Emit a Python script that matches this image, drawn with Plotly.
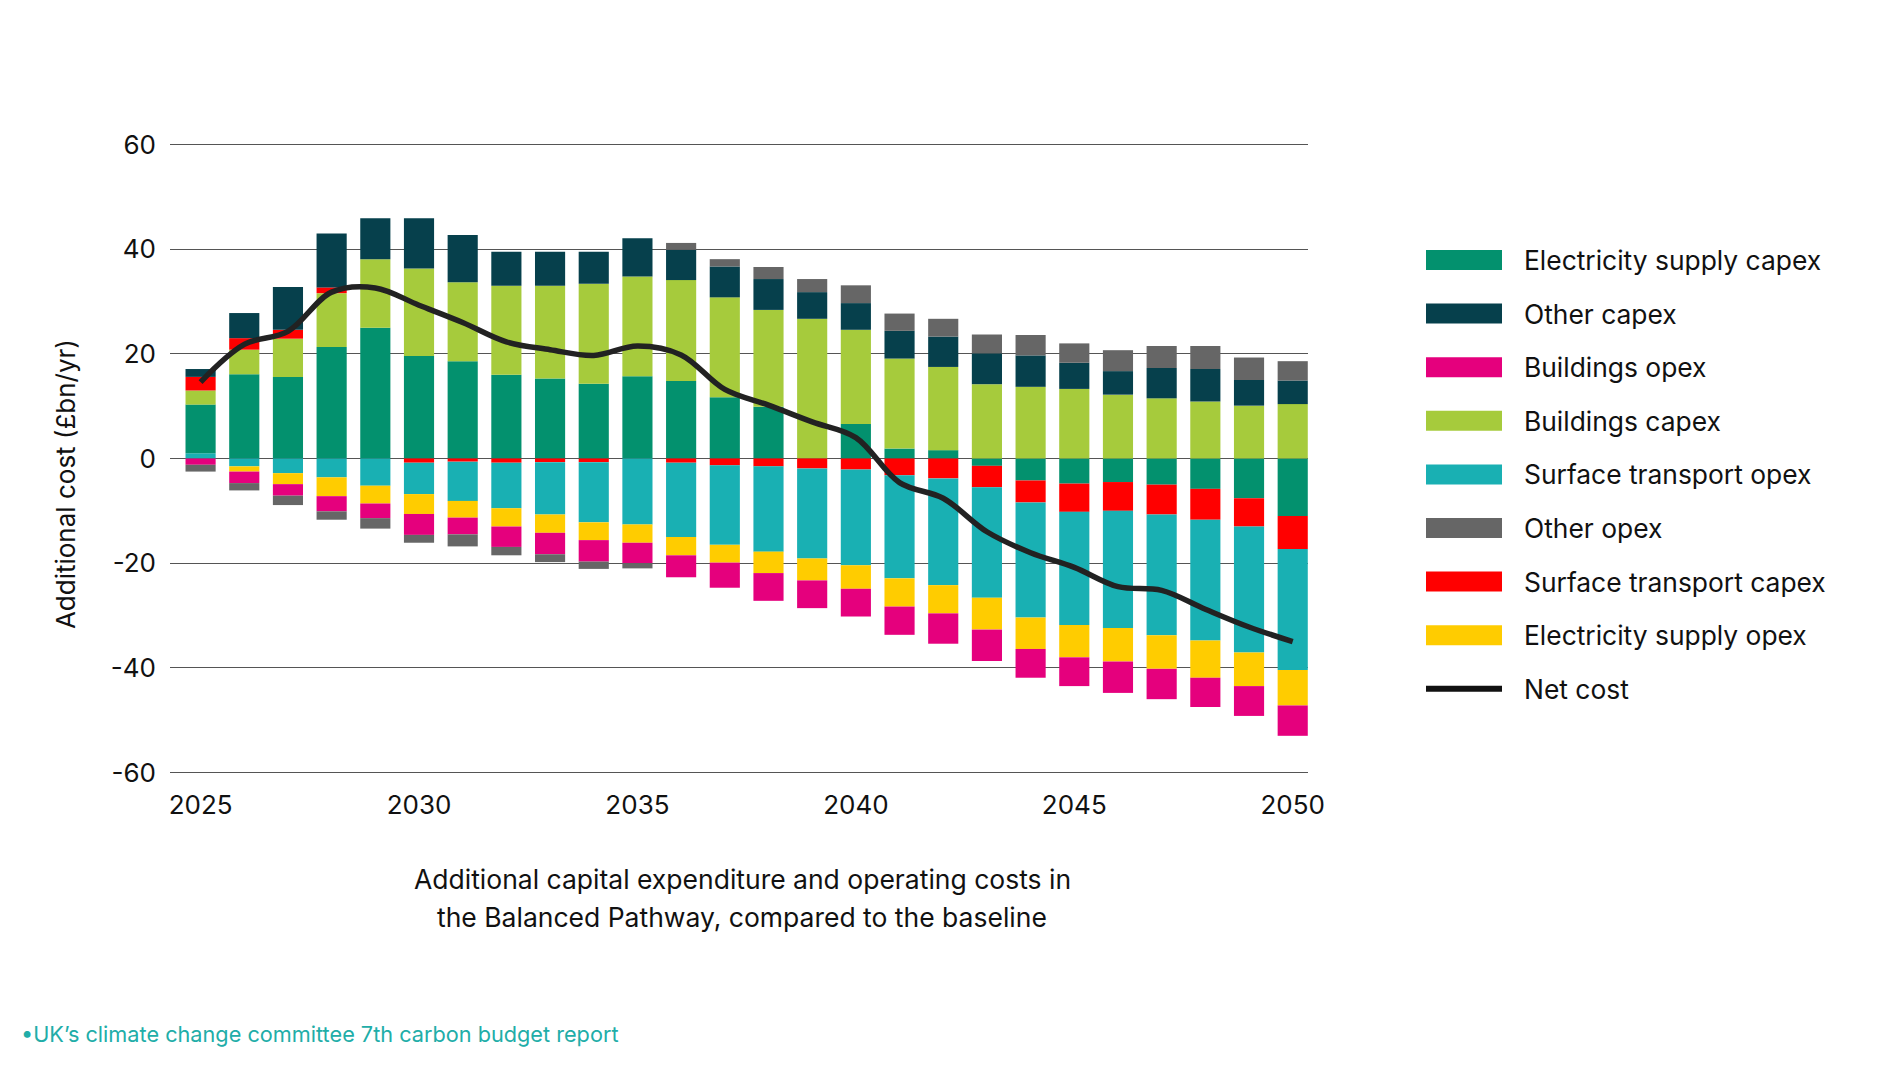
import plotly.graph_objects as go

# Additional capital expenditure and operating costs, Balanced Pathway vs baseline (£bn/yr)
years = [2025, 2026, 2027, 2028, 2029, 2030, 2031, 2032, 2033, 2034, 2035, 2036, 2037,
         2038, 2039, 2040, 2041, 2042, 2043, 2044, 2045, 2046, 2047, 2048, 2049, 2050]

elec_supply_capex = [9.3, 16.1, 15.6, 21.3, 25.0, 19.6, 18.6, 16.0, 15.3, 14.3, 15.7, 14.8, 11.7,
                     9.9, 0.0, 6.6, 1.9, 1.6, -1.4, -4.2, -4.8, -4.5, -5.0, -5.8, -7.6, -11.0]
other_capex = [1.5, 4.8, 8.2, 10.3, 7.8, 9.6, 9.0, 6.5, 6.5, 6.1, 7.3, 5.8, 5.9,
               5.9, 5.1, 5.1, 5.3, 5.8, 5.9, 6.0, 5.0, 4.5, 5.8, 6.2, 4.9, 4.5]
buildings_opex = [-1.2, -2.2, -2.2, -2.9, -2.8, -4.0, -3.2, -3.9, -4.1, -4.1, -3.9, -4.2, -4.8,
                  -5.3, -5.3, -5.3, -5.4, -5.8, -6.0, -5.5, -5.5, -6.0, -5.8, -5.6, -5.7, -5.8]
buildings_capex = [2.7, 4.7, 7.3, 10.3, 13.1, 16.7, 15.1, 17.0, 17.7, 19.1, 19.1, 19.3, 19.1,
                   18.5, 26.7, 18.0, 17.2, 15.9, 14.2, 13.7, 13.3, 12.2, 11.5, 10.9, 10.1, 10.4]
surface_transport_opex = [1.0, -1.5, -2.8, -3.6, -5.2, -6.0, -7.5, -8.7, -10.0, -11.5, -12.6, -14.2, -15.2,
                          -16.3, -17.2, -18.3, -19.7, -20.4, -21.1, -22.0, -21.6, -22.4, -23.1, -23.1, -24.1, -23.1]
other_opex = [-1.3, -1.4, -1.8, -1.6, -2.0, -1.5, -2.3, -1.6, -1.5, -1.4, -1.0, 1.3, 1.4,
              2.3, 2.5, 3.4, 3.3, 3.4, 3.6, 3.9, 3.7, 4.0, 4.2, 4.4, 4.3, 3.7]
surface_transport_capex = [2.6, 2.2, 1.7, 1.1, 0.0, -0.8, -0.6, -0.8, -0.7, -0.7, 0.0, -0.8, -1.3,
                           -1.5, -1.9, -2.1, -3.2, -3.8, -4.1, -4.2, -5.4, -5.5, -5.7, -5.9, -5.4, -6.3]
elec_supply_opex = [0.0, -1.0, -2.1, -3.6, -3.4, -3.8, -3.2, -3.5, -3.5, -3.4, -3.5, -3.5, -3.4,
                    -4.1, -4.2, -4.5, -5.4, -5.4, -6.1, -6.0, -6.2, -6.4, -6.4, -7.1, -6.4, -6.8]
net_cost = [14.6, 21.8, 24.3, 31.8, 32.6, 29.3, 26.0, 22.3, 20.8, 19.7, 21.5, 19.8, 13.2,
            10.2, 7.0, 4.0, -4.6, -7.6, -14.0, -18.0, -20.8, -24.5, -25.2, -28.8, -32.2, -35.0]

x_ticks = [2025, 2030, 2035, 2040, 2045, 2050]
y_ticks = [-60, -40, -20, 0, 20, 40, 60]
y_tick_text = ["-60", "-40", "-20", "0", "20", "40", "60"]

FONT = "Inter"
C_ES_CAPEX = "#03916E"
C_OTHER_CAPEX = "#06404C"
C_B_OPEX = "#E5007D"
C_B_CAPEX = "#A6CB3C"
C_ST_OPEX = "#19B0B3"
C_OTHER_OPEX = "#666666"
C_ST_CAPEX = "#FF0000"
C_ES_OPEX = "#FFCC00"

W, H = 1900, 1069
L, R, T, B = 162, 600, 135, 303
PW, PH = W - L - R, H - T - B


def px(x):
    return (x - L) / PW


def py(y):
    return (H - B - y) / PH


# surface transport opex sits at the bottom of the stack when positive, below the red when negative
st_opex_pos = [v if v > 0 else 0 for v in surface_transport_opex]
st_opex_neg = [v if v < 0 else 0 for v in surface_transport_opex]

# stacking order (relative barmode stacks in trace order)
stack = [
    ("Surface transport opex", st_opex_pos, C_ST_OPEX),
    ("Electricity supply capex", elec_supply_capex, C_ES_CAPEX),
    ("Buildings capex", buildings_capex, C_B_CAPEX),
    ("Surface transport capex", surface_transport_capex, C_ST_CAPEX),
    ("Surface transport opex", st_opex_neg, C_ST_OPEX),
    ("Electricity supply opex", elec_supply_opex, C_ES_OPEX),
    ("Buildings opex", buildings_opex, C_B_OPEX),
    ("Other capex", other_capex, C_OTHER_CAPEX),
    ("Other opex", other_opex, C_OTHER_OPEX),
]

fig = go.Figure()
for name, vals, col in stack:
    fig.add_trace(go.Bar(x=years, y=vals, name=name, marker=dict(color=col, line=dict(width=0)),
                         showlegend=False))

fig.add_trace(go.Scatter(x=years, y=net_cost, mode="lines", name="Net cost", showlegend=False,
                         line=dict(color="#222222", width=5.5, shape="spline", smoothing=1)))

# legend drawn by hand so the swatches can be wide bars like the reference
legend_items = [
    ("Electricity supply capex", C_ES_CAPEX, 20),
    ("Other capex", C_OTHER_CAPEX, 20),
    ("Buildings opex", C_B_OPEX, 20),
    ("Buildings capex", C_B_CAPEX, 20),
    ("Surface transport opex", C_ST_OPEX, 20),
    ("Other opex", C_OTHER_OPEX, 20),
    ("Surface transport capex", C_ST_CAPEX, 20),
    ("Electricity supply opex", C_ES_OPEX, 20),
    ("Net cost", "#111111", 6),
]
for i, (name, col, h) in enumerate(legend_items):
    yc = 252 + i * 53.6
    fig.add_shape(type="rect", xref="paper", yref="paper", x0=px(1418), x1=px(1494),
                  y0=py(yc - h / 2), y1=py(yc + h / 2), fillcolor=col, line=dict(width=0))
    fig.add_annotation(text=name, xref="paper", yref="paper", x=px(1514), y=py(yc),
                       xanchor="left", yanchor="middle", showarrow=False,
                       font=dict(size=26.4, color="#111111"))

fig.update_layout(
    width=W, height=H,
    barmode="relative", bargap=0.31,
    plot_bgcolor="white", paper_bgcolor="white",
    margin=dict(l=L, r=R, t=T, b=B),
    font=dict(family=FONT, size=26, color="#111111"),
    showlegend=False,
    xaxis=dict(range=[2024.3, 2050.35], tickvals=x_ticks, showgrid=False, zeroline=False,
               showline=False, ticks="", tickfont=dict(size=26), ticklabelstandoff=13),
    yaxis=dict(range=[-60.3, 60.3], tickvals=y_ticks, ticktext=y_tick_text, showgrid=True,
               gridcolor="#555555", gridwidth=1.4, zeroline=True, zerolinecolor="#555555",
               zerolinewidth=1.4, showline=False, ticks="", tickfont=dict(size=26),
               ticklabelstandoff=13),
)

fig.add_annotation(text="Additional cost (£bn/yr)", textangle=-90, xref="paper", yref="paper",
                   x=-0.107, y=0.459, showarrow=False, font=dict(size=26, color="#111111"))
fig.add_annotation(text="Additional capital expenditure and operating costs in", xref="paper",
                   yref="paper", x=px(734), y=-0.195, showarrow=False, font=dict(size=26.5, color="#111111"))
fig.add_annotation(text="the Balanced Pathway, compared to the baseline", xref="paper",
                   yref="paper", x=px(734), y=-0.255, showarrow=False, font=dict(size=26.5, color="#111111"))
fig.add_annotation(text="•UK’s climate change committee 7th carbon budget report", xref="paper",
                   yref="paper", x=px(11), y=-0.436, xanchor="left", showarrow=False,
                   font=dict(size=21.7, color="#21ADA8"))

fig.write_html("out.html")
